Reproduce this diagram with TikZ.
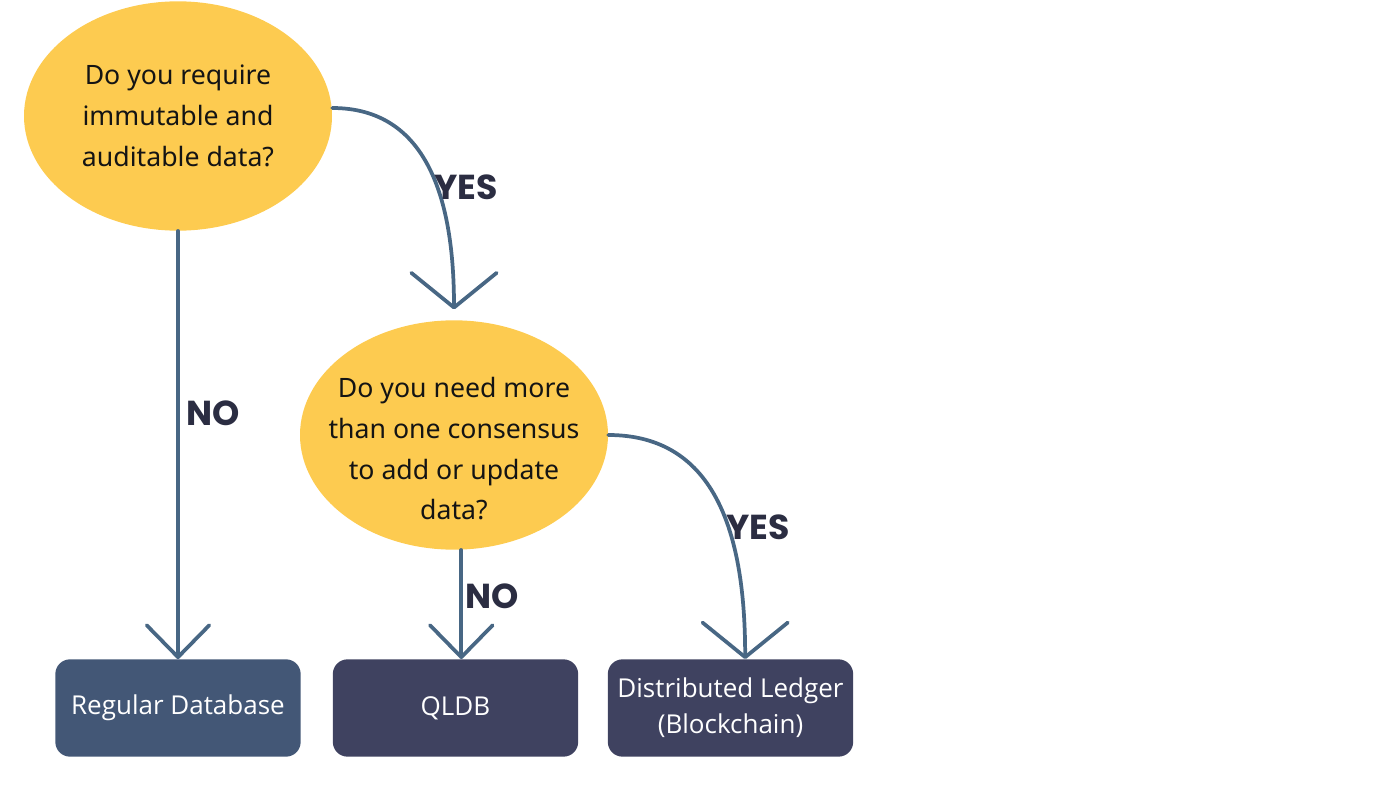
\documentclass[tikz,border=0pt]{standalone}
\usepackage{fontspec}
\setmainfont{Noto Sans}
\newfontfamily\boxfont{Open Sans}
\newfontfamily\lblfont{Poppins}
\usetikzlibrary{shapes.geometric,arrows.meta,positioning}

\definecolor{qyellow}{RGB}{253,203,80}
\definecolor{flowline}{RGB}{72,103,132}
\definecolor{dbblue}{RGB}{67,87,118}
\definecolor{boxnavy}{RGB}{63,66,96}
\definecolor{lbltext}{RGB}{43,45,66}
\definecolor{qtextcol}{RGB}{20,20,20}

\tikzset{
  question/.style={ellipse, fill=qyellow, minimum width=231pt, minimum height=172pt, inner sep=0pt},
  qtext/.style={align=center, text=qtextcol, inner sep=0pt, font=\fontsize{20}{30.5}\selectfont},
  outcome/.style={rounded corners=11pt, fill=boxnavy, text=white, minimum width=184pt, minimum height=73pt, inner sep=0pt, align=center, font=\boxfont\fontsize{19.5}{27}\selectfont},
  flow/.style={draw=flowline, line width=2.8pt, line cap=round, -{Straight Barb[length=24pt,width=47pt,round]}},
  yesflow/.style={flow, -{Straight Barb[length=26pt,width=64pt,round]}},
  answer/.style={text=lbltext, inner sep=0pt, font=\lblfont\bfseries\fontsize{26}{30}\selectfont},
}

\begin{document}
\begin{tikzpicture}[x=0.75pt,y=0.75pt,yscale=-1]
\useasboundingbox (0,0) rectangle (1400,788);

%Shape: Ellipse (questions)
\node[question] (q1) at (178,116) {};
\node[qtext] (q1text) at (q1.center) {Do you require\\immutable and\\auditable data?};
\node[question] (q2) at (454,435) {};
\node[qtext] (q2text) at ([yshift=10.5pt]q2.center) {Do you need more\\than one consensus\\to add or update\\data?};

%Shape: Rectangle (outcomes)
\node[outcome, fill=dbblue] (regdb) at (178,708) {Regular Database};
\node[outcome] (qldb) at (455.5,708) {QLDB};
\node[outcome] (ledger) at (730.5,708) {Distributed Ledger\\(Blockchain)};

%Straight Lines
\draw[flow] (q1.south) -- (regdb.north);
\draw[flow] ([xshift=5.5pt]q2.south) -- ([xshift=5.5pt]q2.south |- qldb.north);

%Curve Lines
\draw[yesflow] ([yshift=-6pt]q1.east) .. controls +(95,0) and +(0,-110) .. ([yshift=-8pt]q2.north);
\draw[yesflow] (q2.east) .. controls +(110,0) and +(0,-120) .. ([xshift=11pt]ledger.north);

% Text Node
\node[answer] (no1) at (213,413) {NO};
% Text Node
\node[answer] (yes1) at (466,187) {YES};
% Text Node
\node[answer] (no2) at (492,596) {NO};
% Text Node
\node[answer] (yes2) at (758,527) {YES};

\end{tikzpicture}
\end{document}
